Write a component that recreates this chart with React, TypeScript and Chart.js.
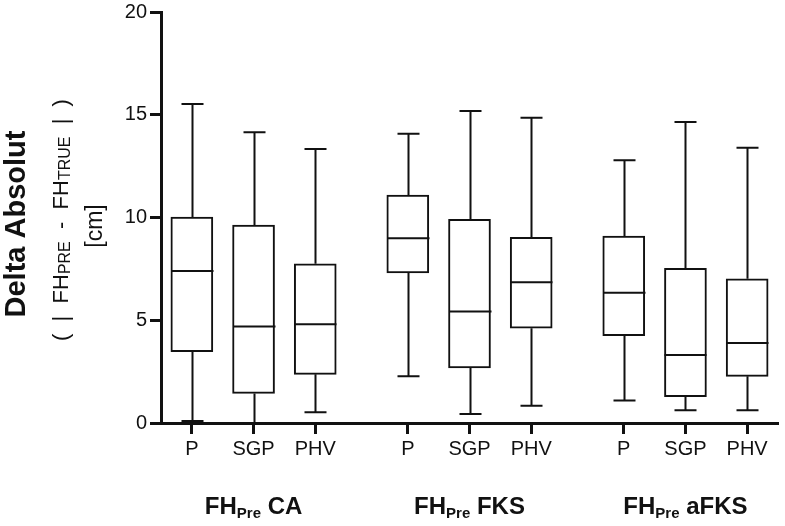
import React, { useEffect, useRef } from 'react';
import { Chart, registerables } from 'chart.js';

Chart.register(...registerables);

// ---- Data ----
const GROUPS = ['CA', 'FKS', 'aFKS'];
const CATEGORIES = ['P', 'SGP', 'PHV', 'P', 'SGP', 'PHV', 'P', 'SGP', 'PHV'];
const POSITIONS = [1, 2, 3, 4.5, 5.5, 6.5, 8, 9, 10];
const GROUP_CENTERS = [2, 5.5, 9];
const MIN = [0.1, 0, 0.52, 2.27, 0.44, 0.84, 1.1, 0.62, 0.62];
const Q1 = [3.47, 1.44, 2.37, 7.3, 2.68, 4.61, 4.25, 1.28, 2.27];
const MEDIAN = [7.4, 4.69, 4.8, 8.99, 5.42, 6.85, 6.34, 3.31, 3.89];
const Q3 = [10.02, 9.63, 7.75, 11.09, 9.91, 9.04, 9.1, 7.53, 7.02];
const MAX = [15.52, 14.15, 13.33, 14.08, 15.18, 14.86, 12.78, 14.65, 13.4];
const Y_MIN = 0;
const Y_MAX = 20;
const Y_STEP = 5;

const FONT = '"Liberation Sans", Arial, Helvetica, sans-serif';
const INK = '#111';

type Seg = { text: string; font: string; dy?: number };

function drawRich(ctx: CanvasRenderingContext2D, segs: Seg[], cx: number, cy: number, rotate: boolean) {
  ctx.save();
  ctx.translate(cx, cy);
  if (rotate) ctx.rotate(-Math.PI / 2);
  ctx.textAlign = 'left';
  ctx.textBaseline = 'alphabetic';
  ctx.fillStyle = INK;
  const widths = segs.map((s) => {
    ctx.font = s.font;
    return ctx.measureText(s.text).width;
  });
  const total = widths.reduce((a, b) => a + b, 0);
  let x = -total / 2;
  segs.forEach((s, i) => {
    ctx.font = s.font;
    ctx.fillText(s.text, x, s.dy || 0);
    x += widths[i];
  });
  ctx.restore();
}

const boxPlugin = {
  id: 'boxExtras',
  beforeDatasetsDraw(chart: any) {
    const { ctx, scales } = chart;
    const xs = scales.x;
    const ys = scales.y;
    const cap = 22;
    ctx.save();
    ctx.strokeStyle = INK;
    ctx.lineWidth = 2;
    POSITIONS.forEach((p, i) => {
      const x = Math.round(xs.getPixelForValue(p)) + 0.5;
      const yMin = ys.getPixelForValue(MIN[i]);
      const yQ1 = ys.getPixelForValue(Q1[i]);
      const yQ3 = ys.getPixelForValue(Q3[i]);
      const yMax = ys.getPixelForValue(MAX[i]);
      ctx.beginPath();
      ctx.moveTo(x, yMin);
      ctx.lineTo(x, yQ1);
      ctx.moveTo(x, yQ3);
      ctx.lineTo(x, yMax);
      ctx.moveTo(x - cap / 2, yMin);
      ctx.lineTo(x + cap / 2, yMin);
      ctx.moveTo(x - cap / 2, yMax);
      ctx.lineTo(x + cap / 2, yMax);
      ctx.stroke();
    });
    ctx.restore();
  },
  afterDatasetsDraw(chart: any) {
    const { ctx, scales } = chart;
    const xs = scales.x;
    const ys = scales.y;
    const half = 21;
    ctx.save();
    ctx.strokeStyle = INK;
    ctx.lineWidth = 2;
    POSITIONS.forEach((p, i) => {
      const x = Math.round(xs.getPixelForValue(p)) + 0.5;
      const y = ys.getPixelForValue(MEDIAN[i]);
      ctx.beginPath();
      ctx.moveTo(x - half, y);
      ctx.lineTo(x + half, y);
      ctx.stroke();
    });
    ctx.restore();
  },
  afterDraw(chart: any) {
    const { ctx, scales } = chart;
    const xs = scales.x;
    // group labels
    GROUP_CENTERS.forEach((g, i) => {
      drawRich(
        ctx,
        [
          { text: 'FH', font: `bold 24px ${FONT}` },
          { text: 'Pre', font: `bold 15px ${FONT}`, dy: 4 },
          { text: ' ' + GROUPS[i], font: `bold 24px ${FONT}` },
        ],
        xs.getPixelForValue(g),
        514,
        false
      );
    });
    // y-axis title
    drawRich(ctx, [{ text: 'Delta Absolut', font: `bold 29px ${FONT}` }], 25, 224, true);
    drawRich(
      ctx,
      [
        { text: '(  |  FH', font: `22px ${FONT}` },
        { text: 'PRE', font: `16px ${FONT}`, dy: 2 },
        { text: '  -  FH', font: `22px ${FONT}` },
        { text: 'TRUE', font: `16px ${FONT}`, dy: 2 },
        { text: '  |  )', font: `22px ${FONT}` },
      ],
      68,
      220,
      true
    );
    drawRich(ctx, [{ text: '[cm]', font: `23px ${FONT}` }], 102, 226, true);
  },
};

export default function App() {
  const ref = useRef<HTMLCanvasElement | null>(null);
  useEffect(() => {
    if (!ref.current) return;
    const chart = new Chart(ref.current, {
      type: 'bar',
      data: {
        datasets: [
          {
            data: POSITIONS.map((x, i) => ({ x, y: [Q1[i], Q3[i]] })) as any,
            backgroundColor: '#ffffff',
            borderColor: INK,
            borderWidth: 2,
            borderSkipped: false,
            barThickness: 42,
          },
        ],
      },
      options: {
        responsive: false,
        animation: false,
        layout: { padding: { top: 12, right: 7, left: 0, bottom: 0 } },
        plugins: { legend: { display: false }, tooltip: { enabled: false } },
        scales: {
          x: {
            type: 'linear',
            min: 0.5,
            max: 10.5,
            offset: false,
            afterBuildTicks: (axis: any) => {
              axis.ticks = POSITIONS.map((v) => ({ value: v }));
            },
            afterFit: (s: any) => {
              s.height = 103;
              s.paddingLeft = 0;
              s.paddingRight = 0;
            },
            ticks: {
              autoSkip: false,
              maxRotation: 0,
              padding: 3,
              color: INK,
              font: { family: FONT, size: 20 },
              callback: (_v: any, i: number) => CATEGORIES[i],
            },
            grid: {
              drawOnChartArea: false,
              drawTicks: true,
              tickLength: 11,
              tickWidth: 3,
              tickColor: INK,
              offset: false,
            },
            border: { display: true, width: 3, color: INK },
          },
          y: {
            min: Y_MIN,
            max: Y_MAX,
            afterFit: (s: any) => {
              s.width = 161;
              s.paddingTop = 0;
              s.paddingBottom = 0;
            },
            ticks: {
              stepSize: Y_STEP,
              padding: 3,
              color: INK,
              font: { family: FONT, size: 20 },
            },
            grid: {
              drawOnChartArea: false,
              drawTicks: true,
              tickLength: 11,
              tickWidth: 3,
              tickColor: INK,
            },
            border: { display: true, width: 3, color: INK },
          },
        },
      },
      plugins: [boxPlugin],
    });
    return () => chart.destroy();
  }, []);
  return (
    <div style={{ position: 'absolute', left: 0, top: 0, width: 785, height: 526, background: '#fff' }}>
      <canvas ref={ref} width={785} height={526} style={{ width: 785, height: 526, display: 'block' }} />
    </div>
  );
}
